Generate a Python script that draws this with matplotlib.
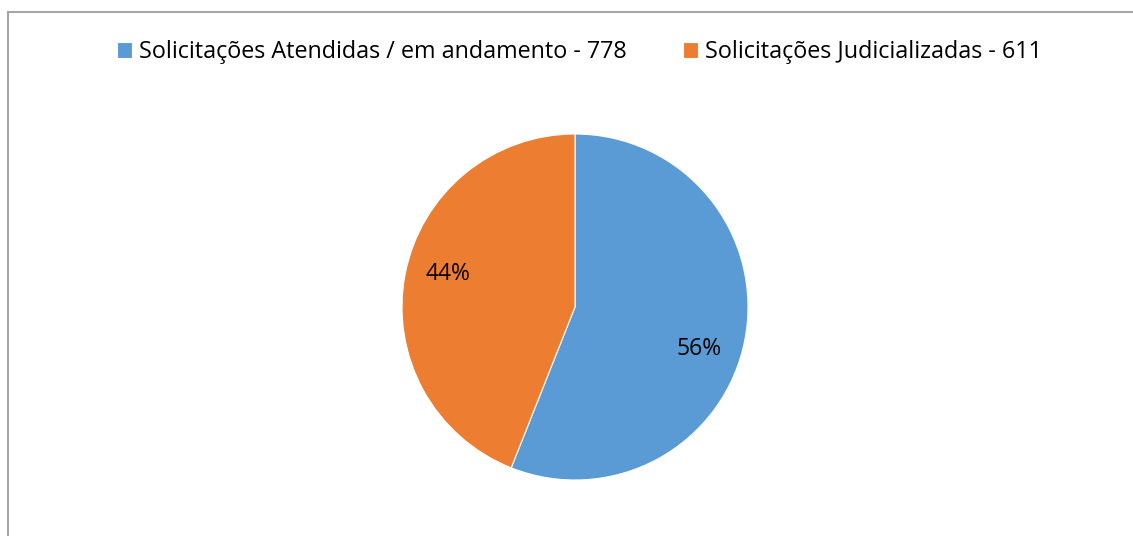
import matplotlib
matplotlib.use('Agg')
import matplotlib.pyplot as plt
from matplotlib.lines import Line2D

# data
categorias = ['Solicitações Atendidas / em andamento', 'Solicitações Judicializadas']
valores = [778, 611]
cores = ['#5B9BD5', '#ED7D31']

plt.rcParams['font.family'] = ['Open Sans', 'DejaVu Sans']

W, H = 1133, 536
fig = plt.figure(figsize=(W / 100, H / 100), dpi=100)

# chart border (top and left visible)
fig.add_artist(Line2D([8 / W, 8 / W], [0, 1 - 11.5 / H], color='#A6A6A6', lw=1.5))
fig.add_artist(Line2D([8 / W, 1], [1 - 11.5 / H, 1 - 11.5 / H], color='#A6A6A6', lw=1.5))

# pie axes, center (575, 307) radius 173 px
cx, cy, r = 575, 307, 173
ax = fig.add_axes([(cx - r) / W, (H - cy - r) / H, 2 * r / W, 2 * r / H])
wedges, texts, autotexts = ax.pie(valores, colors=cores, startangle=90, counterclock=False,
                                  autopct='%1.0f%%', pctdistance=0.76,
                                  wedgeprops=dict(edgecolor='white', linewidth=0.8),
                                  textprops=dict(fontsize=16.5, color='black'))
ax.set_xlim(-1, 1)
ax.set_ylim(-1, 1)
ax.set_aspect('equal')
ax.axis('off')

# nudge labels to match placement
x, y = autotexts[0].get_position()
autotexts[0].set_position((x - 0.03, y - 0.1))
x, y = autotexts[1].get_position()
autotexts[1].set_position((x + 0.01, y + 0.05))

labels = [f'{c} - {v}' for c, v in zip(categorias, valores)]
fig.legend(wedges, labels, loc='center', bbox_to_anchor=(579.5 / W, 1 - 52 / H), ncol=2,
           frameon=False, fontsize=16.8, handlelength=0.65, handleheight=0.65,
           handletextpad=0.3, columnspacing=2.4, borderpad=0, borderaxespad=0)

fig.savefig('out.png', dpi=100)
